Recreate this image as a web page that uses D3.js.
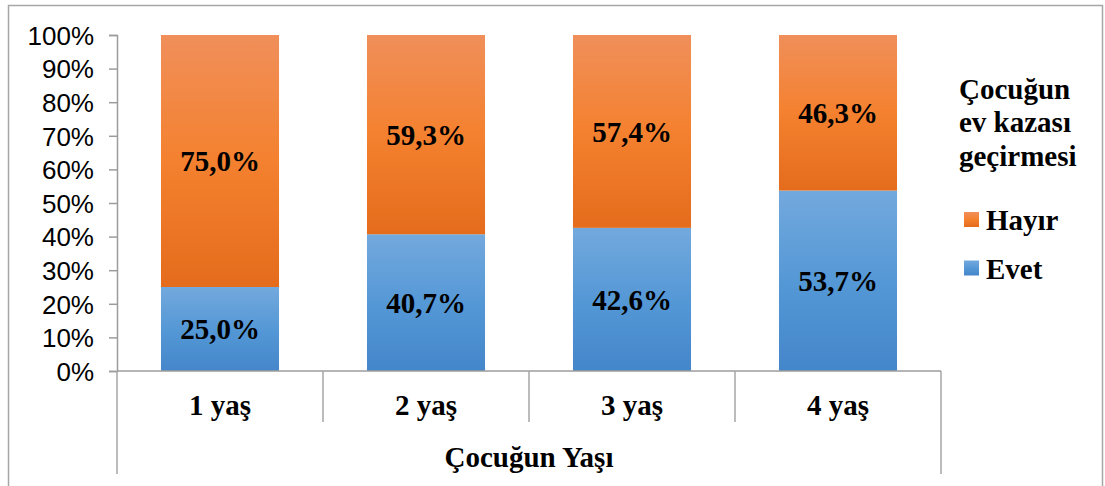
<!DOCTYPE html>
<html>
<head>
<meta charset="utf-8">
<script src="https://cdn.jsdelivr.net/npm/d3@7"></script>
<style>
  body { margin: 0; background: #fff; }
  svg text { fill: #000; }
</style>
</head>
<body>
<script>
// chart values
var categories = ["1 yaş", "2 yaş", "3 yaş", "4 yaş"];
var evet = [25.0, 40.7, 42.6, 53.7];
var hayir = [75.0, 59.3, 57.4, 46.3];
var yTicks = [0, 10, 20, 30, 40, 50, 60, 70, 80, 90, 100];
var seriesNames = ["Evet", "Hayır"];
var legendTitle = ["Çocuğun", "ev kazası", "geçirmesi"];
var axisTitle = "Çocuğun Yaşı";

var width = 1105, height = 486;
var serif = "'Liberation Serif', 'Times New Roman', serif";
var sans = "'Liberation Sans', Arial, sans-serif";

var svg = d3.select("body")
    .append("svg")
    .attr("width", width)
    .attr("height", height);

// gradients, one per series, per segment
var defs = svg.append("defs");
var gOrange = defs.append("linearGradient").attr("id", "gradHayir")
    .attr("x1", 0).attr("y1", 0).attr("x2", 0).attr("y2", 1);
gOrange.append("stop").attr("offset", "0%").attr("stop-color", "#f08f5a");
gOrange.append("stop").attr("offset", "50%").attr("stop-color", "#f4812f");
gOrange.append("stop").attr("offset", "100%").attr("stop-color", "#e46c1c");
var gBlue = defs.append("linearGradient").attr("id", "gradEvet")
    .attr("x1", 0).attr("y1", 0).attr("x2", 0).attr("y2", 1);
gBlue.append("stop").attr("offset", "0%").attr("stop-color", "#73a9dd");
gBlue.append("stop").attr("offset", "50%").attr("stop-color", "#5598d6");
gBlue.append("stop").attr("offset", "100%").attr("stop-color", "#4486ca");

// outer frame
svg.append("rect")
    .attr("x", 8.5).attr("y", 5.5)
    .attr("width", 1094).attr("height", 495)
    .attr("fill", "none")
    .attr("stroke", "#a6a6a6")
    .attr("stroke-width", 1.5);

var x = d3.scaleBand()
    .domain(categories)
    .range([117, 941])
    .paddingInner(0.427)
    .paddingOuter(0.2135);

var y = d3.scaleLinear()
    .domain([0, 100])
    .range([371, 35]);

// stacked data
var rows = categories.map(function(c, i) {
    return { cat: c, Evet: evet[i], "Hayır": hayir[i] };
});
var stack = d3.stack().keys(seriesNames)(rows);
var fills = { "Evet": "url(#gradEvet)", "Hayır": "url(#gradHayir)" };

var layers = svg.append("g")
    .selectAll("g")
    .data(stack)
    .enter().append("g")
    .attr("fill", function(d) { return fills[d.key]; });

layers.selectAll("rect")
    .data(function(d) { return d; })
    .enter().append("rect")
    .attr("x", function(d) { return x(d.data.cat); })
    .attr("y", function(d) { return y(d[1]); })
    .attr("width", x.bandwidth())
    .attr("height", function(d) { return y(d[0]) - y(d[1]); });

// value labels
layers.selectAll("text")
    .data(function(d) { return d; })
    .enter().append("text")
    .attr("x", function(d) { return x(d.data.cat) + x.bandwidth() / 2; })
    .attr("y", function(d) { return (y(d[0]) + y(d[1])) / 2; })
    .attr("dy", "0.36em")
    .attr("text-anchor", "middle")
    .style("font-family", serif)
    .style("font-weight", "bold")
    .style("font-size", "29px")
    .text(function(d) { return (d[1] - d[0]).toFixed(1).replace(".", ",") + "%"; });

// y axis
var yAxis = svg.append("g")
    .attr("transform", "translate(117,0)")
    .call(d3.axisLeft(y)
        .tickValues(yTicks)
        .tickSize(8)
        .tickPadding(15)
        .tickFormat(function(d) { return d + "%"; }));
yAxis.select(".domain").attr("stroke", "#9c9c9c").attr("stroke-width", 1.5);
yAxis.selectAll(".tick line").attr("stroke", "#9c9c9c").attr("stroke-width", 1.5);
yAxis.selectAll(".tick text")
    .attr("dy", "0.36em")
    .style("font-family", sans)
    .style("font-size", "26px");

// category axis
var axisG = svg.append("g");
axisG.append("line")
    .attr("x1", 117).attr("x2", 941)
    .attr("y1", y(0)).attr("y2", y(0))
    .attr("stroke", "#9c9c9c").attr("stroke-width", 1.5);

var bounds = categories.map(function(c) { return x(c) - x.step() * x.paddingInner() / 2; });
bounds.push(941);
axisG.selectAll("line.sep")
    .data(bounds)
    .enter().append("line")
    .attr("class", "sep")
    .attr("x1", function(d) { return d; })
    .attr("x2", function(d) { return d; })
    .attr("y1", y(0))
    .attr("y2", function(d, i) { return (i === 0 || i === bounds.length - 1) ? 474 : 422; })
    .attr("stroke", "#a6a6a6").attr("stroke-width", 1.5);

axisG.selectAll("text.cat")
    .data(categories)
    .enter().append("text")
    .attr("class", "cat")
    .attr("x", function(d) { return x(d) + x.bandwidth() / 2; })
    .attr("y", 415)
    .attr("text-anchor", "middle")
    .style("font-family", serif)
    .style("font-weight", "bold")
    .style("font-size", "29px")
    .text(function(d) { return d; });

axisG.append("text")
    .attr("x", (117 + 941) / 2)
    .attr("y", 467)
    .attr("text-anchor", "middle")
    .style("font-family", serif)
    .style("font-weight", "bold")
    .style("font-size", "29px")
    .text(axisTitle);

// legend
var legend = svg.append("g");
legend.selectAll("text.title")
    .data(legendTitle)
    .enter().append("text")
    .attr("class", "title")
    .attr("x", 959)
    .attr("y", function(d, i) { return 99 + i * 33.4; })
    .style("font-family", serif)
    .style("font-weight", "bold")
    .style("font-size", "29px")
    .text(function(d) { return d; });

var legendItems = ["Hayır", "Evet"];
var item = legend.selectAll("g.item")
    .data(legendItems)
    .enter().append("g")
    .attr("class", "item")
    .attr("transform", function(d, i) { return "translate(964," + (212 + i * 48.5) + ")"; });
item.append("rect")
    .attr("width", 15).attr("height", 15)
    .attr("fill", function(d) { return fills[d]; });
item.append("text")
    .attr("x", 22)
    .attr("y", 18)
    .style("font-family", serif)
    .style("font-weight", "bold")
    .style("font-size", "29px")
    .text(function(d) { return d; });
</script>
</body>
</html>
